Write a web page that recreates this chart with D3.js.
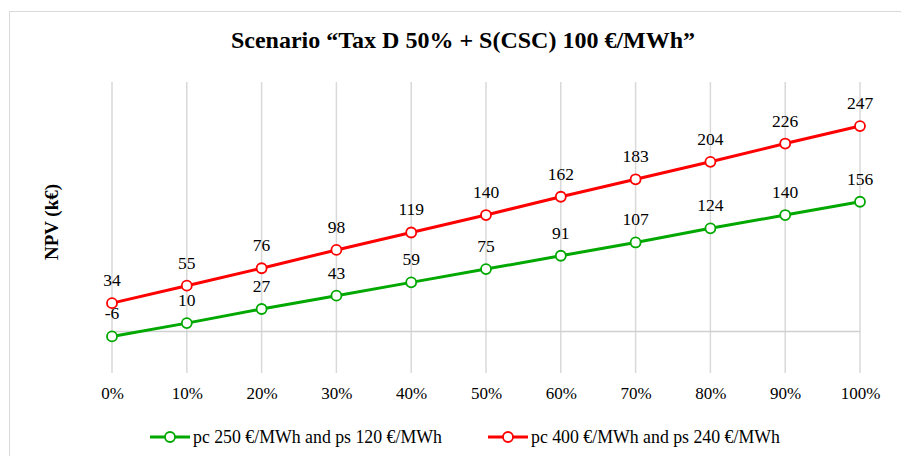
<!DOCTYPE html>
<html>
<head>
<meta charset="utf-8">
<script src="https://cdn.jsdelivr.net/npm/d3@7"></script>
<style>
  html, body { margin: 0; padding: 0; background: #fff; }
</style>
</head>
<body>
<svg id="chart" width="901" height="456" style="display:block" font-family="Liberation Serif"></svg>
<script>
"use strict";

// chart data
var shares = ["0%", "10%", "20%", "30%", "40%", "50%", "60%", "70%", "80%", "90%", "100%"];
var greenValues = [-6, 10, 27, 43, 59, 75, 91, 107, 124, 140, 156];
var redValues = [34, 55, 76, 98, 119, 140, 162, 183, 204, 226, 247];
var seriesNames = ["pc 250 €/MWh and ps 120 €/MWh", "pc 400 €/MWh and ps 240 €/MWh"];
var titleText = "Scenario “Tax D 50% + S(CSC) 100 €/MWh”";
var yTitle = "NPV (k€)";

var colors = ["#00a800", "#ff0000"];
var serif = "Liberation Serif";

var svg = d3.select("#chart");

// outer chart border
svg.append("rect")
  .attr("x", 9.5).attr("y", 11.5)
  .attr("width", 905).attr("height", 460)
  .attr("fill", "none")
  .attr("stroke", "#d9d9d9")
  .attr("stroke-width", 1);

var x = d3.scalePoint().domain(shares).range([112, 860]);
var y = d3.scaleLinear().domain([-50, 300]).range([373, 82]);

// vertical gridlines
svg.append("g").selectAll("line.grid")
  .data(shares)
  .enter().append("line")
  .attr("class", "grid")
  .attr("x1", function (d) { return x(d); })
  .attr("x2", function (d) { return x(d); })
  .attr("y1", y(-50))
  .attr("y2", y(300))
  .attr("stroke", "#d9d9d9")
  .attr("stroke-width", 1.5);

// zero line
svg.append("line")
  .attr("x1", x(shares[0])).attr("x2", x(shares[shares.length - 1]))
  .attr("y1", y(0)).attr("y2", y(0))
  .attr("stroke", "#d0d0d0")
  .attr("stroke-width", 1.5);

// x axis labels
var xAxis = d3.axisBottom(x).tickSize(0).tickPadding(0);
var xg = svg.append("g")
  .attr("transform", "translate(0," + 389 + ")")
  .call(xAxis)
  .attr("font-family", serif)
  .attr("font-size", 17);
xg.select(".domain").remove();
xg.selectAll("text")
  .attr("fill", "#000")
  .attr("dy", "0.6em");

// title
svg.append("text")
  .attr("x", 463).attr("y", 48)
  .attr("text-anchor", "middle")
  .attr("font-family", serif)
  .attr("font-size", 24)
  .attr("font-weight", "bold")
  .text(titleText);

svg.append("text")
  .attr("transform", "translate(58,222) rotate(-90)")
  .attr("text-anchor", "middle")
  .attr("font-family", serif)
  .attr("font-size", 19)
  .attr("font-weight", "bold")
  .text(yTitle);

var line = d3.line()
  .x(function (d, i) { return x(shares[i]); })
  .y(function (d) { return y(d); });

function drawSeries(values, color) {
  var g = svg.append("g");
  g.append("path")
    .datum(values)
    .attr("d", line)
    .attr("fill", "none")
    .attr("stroke", color)
    .attr("stroke-width", 3);
  g.selectAll("circle")
    .data(values)
    .enter().append("circle")
    .attr("cx", function (d, i) { return x(shares[i]); })
    .attr("cy", function (d) { return y(d); })
    .attr("r", 5)
    .attr("fill", "#fff")
    .attr("stroke", color)
    .attr("stroke-width", 1.8);
  g.selectAll("text")
    .data(values)
    .enter().append("text")
    .attr("x", function (d, i) { return x(shares[i]); })
    .attr("y", function (d) { return y(d) - 17; })
    .attr("text-anchor", "middle")
    .attr("font-family", serif)
    .attr("font-size", 17.5)
    .text(function (d) { return d; });
}

drawSeries(greenValues, colors[0]);
drawSeries(redValues, colors[1]);

// legend
var legendItems = [
  { name: seriesNames[0], color: colors[0], x: 150 },
  { name: seriesNames[1], color: colors[1], x: 488 }
];
var legend = svg.append("g");
legendItems.forEach(function (item) {
  legend.append("line")
    .attr("x1", item.x).attr("x2", item.x + 40)
    .attr("y1", 437).attr("y2", 437)
    .attr("stroke", item.color)
    .attr("stroke-width", 3);
  legend.append("circle")
    .attr("cx", item.x + 20).attr("cy", 437)
    .attr("r", 5)
    .attr("fill", "#fff")
    .attr("stroke", item.color)
    .attr("stroke-width", 1.8);
  legend.append("text")
    .attr("x", item.x + 43).attr("y", 443)
    .attr("font-family", serif)
    .attr("font-size", 17.8)
    .text(item.name);
});
</script>
</body>
</html>
